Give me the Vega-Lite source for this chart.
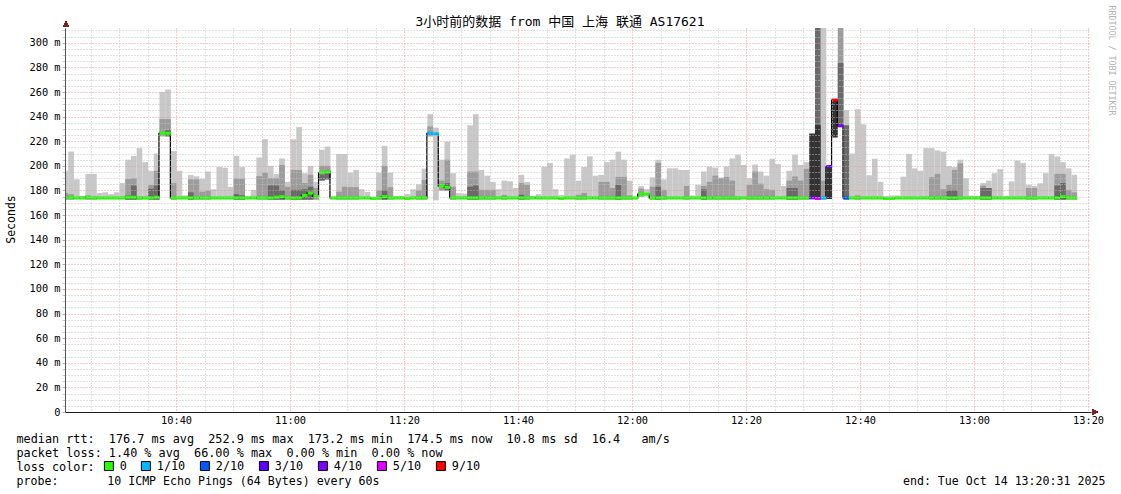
{
"$schema": "https://vega.github.io/schema/vega-lite/v6.json",
"width": 1026, "height": 384,
"autosize": {"type": "none"},
"padding": {"left": 65, "top": 28, "right": 30, "bottom": 82},
"background": "white",
"config": {"view": {"stroke": null}, "font": "DejaVu Sans Mono"},
"title": {"text": "3小时前的数据 from 中国 上海 联通 AS17621", "font": "DejaVu Sans Mono, Noto Sans CJK SC", "fontSize": 13, "fontWeight": "normal", "color": "#000", "anchor": "middle", "frame": "group", "dx": -18, "dy": 37, "offset": 3, "baseline": "alphabetic"},
"data": {"values": [
{"t":"2025-10-14T10:20","lo":172.5,"h":196,"g":178,"m":174,"l":0},
{"t":"2025-10-14T10:21","lo":172.5,"h":211.6,"g":177,"m":174.5,"l":0},
{"t":"2025-10-14T10:22","lo":172.5,"h":189,"m":174,"l":0},
{"t":"2025-10-14T10:23","lo":172.5,"h":175.5,"m":174,"l":0},
{"t":"2025-10-14T10:24","lo":172.5,"h":193.5,"g":176,"m":174.5,"l":0},
{"t":"2025-10-14T10:25","lo":172.5,"h":193.5,"g":175,"m":174,"l":0},
{"t":"2025-10-14T10:26","lo":172.5,"h":178,"m":174,"l":0},
{"t":"2025-10-14T10:27","lo":172.5,"h":178.5,"m":174,"l":0},
{"t":"2025-10-14T10:28","lo":172.5,"h":177,"m":174,"l":0},
{"t":"2025-10-14T10:29","lo":172.5,"h":178.5,"m":174,"l":0},
{"t":"2025-10-14T10:30","lo":172.5,"h":186,"m":174,"l":0},
{"t":"2025-10-14T10:31","lo":172.5,"h":205,"g":189.4,"k":176,"m":174.5,"l":0},
{"t":"2025-10-14T10:32","lo":172.5,"h":208,"g":190,"k":184,"m":174.5,"l":0},
{"t":"2025-10-14T10:33","lo":172.5,"h":214.4,"g":175,"m":174,"l":0},
{"t":"2025-10-14T10:34","lo":172.5,"h":203,"m":174,"l":0},
{"t":"2025-10-14T10:35","lo":172.5,"h":196,"g":184.5,"k":181.5,"m":174,"l":0},
{"t":"2025-10-14T10:36","lo":172.5,"h":210,"g":196,"k":184,"m":174.5,"l":0},
{"t":"2025-10-14T10:37","lo":224,"h":260,"g":238,"m":226.5,"l":0},
{"t":"2025-10-14T10:38","lo":224,"h":262,"g":238,"k":229,"m":226.5,"l":0},
{"t":"2025-10-14T10:39","lo":172.5,"h":212,"g":186,"m":174,"l":0},
{"t":"2025-10-14T10:40","lo":172.5,"h":196,"m":174,"l":0},
{"t":"2025-10-14T10:41","lo":172.5,"h":176,"m":174,"l":0},
{"t":"2025-10-14T10:42","lo":172.5,"h":192.5,"g":189,"k":178.5,"m":174,"l":0},
{"t":"2025-10-14T10:43","lo":172.5,"h":191.5,"g":189,"m":174,"l":0},
{"t":"2025-10-14T10:44","lo":172.5,"h":189.4,"g":179,"m":174,"l":0},
{"t":"2025-10-14T10:45","lo":172.5,"h":195.5,"g":180,"m":174,"l":0},
{"t":"2025-10-14T10:46","lo":172.5,"h":181,"m":174,"l":0},
{"t":"2025-10-14T10:47","lo":172.5,"h":199,"m":174,"l":0},
{"t":"2025-10-14T10:48","lo":172.5,"h":198.5,"m":174,"l":0},
{"t":"2025-10-14T10:49","lo":172.5,"h":183,"m":174,"l":0},
{"t":"2025-10-14T10:50","lo":172.5,"h":208,"g":189.6,"k":177,"m":174,"l":0},
{"t":"2025-10-14T10:51","lo":172.5,"h":199,"g":189.6,"k":176,"m":174,"l":0},
{"t":"2025-10-14T10:52","lo":172.5,"h":175,"m":174,"l":0},
{"t":"2025-10-14T10:53","lo":172.5,"h":180.5,"m":174,"l":0},
{"t":"2025-10-14T10:54","lo":172.5,"h":206.8,"g":191.6,"m":174,"l":0},
{"t":"2025-10-14T10:55","lo":172.5,"h":221.7,"g":194.5,"m":174,"l":0},
{"t":"2025-10-14T10:56","lo":172.5,"h":200,"g":190,"k":184,"m":174,"l":0},
{"t":"2025-10-14T10:57","lo":172.5,"h":193.5,"g":190,"k":184,"m":174.5,"l":0},
{"t":"2025-10-14T10:58","lo":172.5,"h":206,"g":200.7,"k":180,"m":175,"l":0},
{"t":"2025-10-14T10:59","lo":172.5,"h":187,"g":183,"m":174,"l":0},
{"t":"2025-10-14T11:00","lo":172.5,"h":221.6,"g":196.7,"k":180.5,"m":174,"l":0},
{"t":"2025-10-14T11:01","lo":172.5,"h":231.5,"g":196.7,"k":180.5,"m":174,"l":0},
{"t":"2025-10-14T11:02","lo":172.5,"h":194,"g":186,"k":181,"m":176,"l":0},
{"t":"2025-10-14T11:03","lo":172.5,"h":200,"g":192.7,"k":183,"m":178,"l":0},
{"t":"2025-10-14T11:04","lo":172.5,"h":187,"g":182,"m":175,"l":0},
{"t":"2025-10-14T11:05","lo":188,"h":213,"g":200,"k":193,"m":194.6,"l":0},
{"t":"2025-10-14T11:06","lo":189,"h":215.7,"g":200,"k":196,"m":195,"l":0},
{"t":"2025-10-14T11:07","lo":172.5,"h":175,"m":174,"l":0},
{"t":"2025-10-14T11:08","lo":172.5,"h":209.7,"g":179,"m":174,"l":0},
{"t":"2025-10-14T11:09","lo":172.5,"h":209.7,"g":183,"m":174,"l":0},
{"t":"2025-10-14T11:10","lo":172.5,"h":194.5,"g":182.7,"m":174,"l":0},
{"t":"2025-10-14T11:11","lo":172.5,"h":196.7,"g":182.7,"m":174,"l":0},
{"t":"2025-10-14T11:12","lo":172.5,"h":181,"m":174,"l":0},
{"t":"2025-10-14T11:13","lo":172.5,"h":178.8,"m":174,"l":0},
{"t":"2025-10-14T11:14","lo":172.5,"h":175,"m":173.5,"l":0},
{"t":"2025-10-14T11:15","lo":172.5,"h":194.5,"g":180,"m":174,"l":0},
{"t":"2025-10-14T11:16","lo":172.5,"h":216.3,"g":200,"k":180,"m":175,"l":0},
{"t":"2025-10-14T11:17","lo":172.5,"h":194.5,"g":182.7,"m":174,"l":0},
{"t":"2025-10-14T11:18","lo":172.5,"h":175.5,"m":174,"l":0},
{"t":"2025-10-14T11:19","lo":172.5,"h":175.5,"m":174,"l":0},
{"t":"2025-10-14T11:20","lo":172.5,"h":177,"m":173.5,"l":0},
{"t":"2025-10-14T11:21","lo":172.5,"h":181,"m":174,"l":0},
{"t":"2025-10-14T11:22","lo":172.5,"h":185,"g":180,"m":174,"l":0},
{"t":"2025-10-14T11:23","lo":172.5,"h":197.7,"g":188.6,"m":174,"l":0},
{"t":"2025-10-14T11:24","lo":224,"h":242,"g":232,"m":226.5,"l":1},
{"t":"2025-10-14T11:25","lo":172,"h":231,"m":226,"l":1},
{"t":"2025-10-14T11:26","lo":180,"h":205,"g":188,"m":183.7,"l":0},
{"t":"2025-10-14T11:27","lo":180,"h":219.6,"g":205,"k":186,"m":182.5,"l":0},
{"t":"2025-10-14T11:28","lo":172.5,"h":194,"g":183,"m":174,"l":0},
{"t":"2025-10-14T11:29","lo":172.5,"h":177.8,"m":174,"l":0},
{"t":"2025-10-14T11:30","lo":172.5,"h":177.5,"m":174,"l":0},
{"t":"2025-10-14T11:31","lo":172.5,"h":233,"g":195.4,"k":183,"m":174,"l":0},
{"t":"2025-10-14T11:32","lo":172.5,"h":242,"g":195.4,"k":184,"m":174,"l":0},
{"t":"2025-10-14T11:33","lo":172.5,"h":196.7,"g":180.5,"m":174,"l":0},
{"t":"2025-10-14T11:34","lo":172.5,"h":192,"g":180.5,"m":174,"l":0},
{"t":"2025-10-14T11:35","lo":172.5,"h":187,"g":180.5,"m":174,"l":0},
{"t":"2025-10-14T11:36","lo":172.5,"h":181,"m":174,"l":0},
{"t":"2025-10-14T11:37","lo":172.5,"h":188,"g":176.4,"m":174,"l":0},
{"t":"2025-10-14T11:38","lo":172.5,"h":187.5,"m":174,"l":0},
{"t":"2025-10-14T11:39","lo":172.5,"h":182,"m":174,"l":0},
{"t":"2025-10-14T11:40","lo":172.5,"h":192.7,"g":186,"k":176.5,"m":174,"l":0},
{"t":"2025-10-14T11:41","lo":172.5,"h":187,"g":184.6,"m":174,"l":0},
{"t":"2025-10-14T11:42","lo":172.5,"h":175.6,"m":174,"l":0},
{"t":"2025-10-14T11:43","lo":172.5,"h":177,"m":174,"l":0},
{"t":"2025-10-14T11:44","lo":172.5,"h":199.2,"m":174,"l":0},
{"t":"2025-10-14T11:45","lo":172.5,"h":202.4,"m":174,"l":0},
{"t":"2025-10-14T11:46","lo":172.5,"h":181,"m":174,"l":0},
{"t":"2025-10-14T11:47","lo":172.5,"h":176.4,"m":173.5,"l":0},
{"t":"2025-10-14T11:48","lo":172.5,"h":206,"m":174,"l":0},
{"t":"2025-10-14T11:49","lo":172.5,"h":209,"m":174,"l":0},
{"t":"2025-10-14T11:50","lo":172.5,"h":188,"g":176.4,"m":174,"l":0},
{"t":"2025-10-14T11:51","lo":172.5,"h":199,"g":178,"m":174,"l":0},
{"t":"2025-10-14T11:52","lo":172.5,"h":207.7,"m":174,"l":0},
{"t":"2025-10-14T11:53","lo":172.5,"h":192,"m":174,"l":0},
{"t":"2025-10-14T11:54","lo":172.5,"h":192.7,"g":187,"m":174,"l":0},
{"t":"2025-10-14T11:55","lo":172.5,"h":203,"g":187,"m":174,"l":0},
{"t":"2025-10-14T11:56","lo":172.5,"h":205,"g":182,"m":174,"l":0},
{"t":"2025-10-14T11:57","lo":172.5,"h":211.5,"g":191,"k":184.5,"m":174,"l":0},
{"t":"2025-10-14T11:58","lo":172.5,"h":205,"g":191,"m":174,"l":0},
{"t":"2025-10-14T11:59","lo":172.5,"h":188,"g":176,"m":174,"l":0},
{"t":"2025-10-14T12:00","lo":172.5,"h":174.5,"m":174,"l":0},
{"t":"2025-10-14T12:01","lo":175,"h":183.5,"g":181.5,"m":177,"l":0},
{"t":"2025-10-14T12:02","lo":175,"h":181,"m":177,"l":0},
{"t":"2025-10-14T12:03","lo":172.5,"h":190.6,"g":183,"m":174,"l":0},
{"t":"2025-10-14T12:04","lo":172.5,"h":205,"g":202.4,"k":183,"m":174,"l":0},
{"t":"2025-10-14T12:05","lo":172.5,"h":189,"g":180.5,"m":174,"l":0},
{"t":"2025-10-14T12:06","lo":172.5,"h":198,"m":174,"l":0},
{"t":"2025-10-14T12:07","lo":172.5,"h":198,"m":174,"l":0},
{"t":"2025-10-14T12:08","lo":172.5,"h":196.7,"m":174,"l":0},
{"t":"2025-10-14T12:09","lo":172.5,"h":196.7,"g":183.7,"m":174,"l":0},
{"t":"2025-10-14T12:10","lo":172.5,"h":176,"m":174,"l":0},
{"t":"2025-10-14T12:11","lo":172.5,"h":184.6,"m":174,"l":0},
{"t":"2025-10-14T12:12","lo":172.5,"h":195.4,"g":183.7,"k":181,"m":174,"l":0},
{"t":"2025-10-14T12:13","lo":172.5,"h":199.4,"g":187,"m":174,"l":0},
{"t":"2025-10-14T12:14","lo":172.5,"h":198.6,"g":192,"m":174,"l":0},
{"t":"2025-10-14T12:15","lo":172.5,"h":190.6,"g":190,"m":174,"l":0},
{"t":"2025-10-14T12:16","lo":172.5,"h":199.4,"g":191,"m":174,"l":0},
{"t":"2025-10-14T12:17","lo":172.5,"h":206,"g":188,"m":174,"l":0},
{"t":"2025-10-14T12:18","lo":172.5,"h":209,"g":175,"m":174,"l":0},
{"t":"2025-10-14T12:19","lo":172.5,"h":200.8,"m":174,"l":0},
{"t":"2025-10-14T12:20","lo":172.5,"h":190,"g":184.6,"m":174,"l":0},
{"t":"2025-10-14T12:21","lo":172.5,"h":201,"g":195.4,"m":174,"l":0},
{"t":"2025-10-14T12:22","lo":172.5,"h":195.4,"g":185.5,"m":174,"l":0},
{"t":"2025-10-14T12:23","lo":172.5,"h":192,"g":181,"m":174,"l":0},
{"t":"2025-10-14T12:24","lo":172.5,"h":205.7,"g":180.5,"m":174,"l":0},
{"t":"2025-10-14T12:25","lo":172.5,"h":201.4,"m":174,"l":0},
{"t":"2025-10-14T12:26","lo":172.5,"h":183.7,"m":174,"l":0},
{"t":"2025-10-14T12:27","lo":172.5,"h":196,"g":188,"k":182,"m":174,"l":0},
{"t":"2025-10-14T12:28","lo":172.5,"h":209,"g":191.4,"k":182,"m":174,"l":0},
{"t":"2025-10-14T12:29","lo":172.5,"h":200.8,"g":188,"m":174,"l":0},
{"t":"2025-10-14T12:30","lo":172.5,"h":203,"g":197.6,"m":174,"l":0},
{"t":"2025-10-14T12:31","lo":173,"x":226.3,"m":174,"l":4},
{"t":"2025-10-14T12:32","lo":172.5,"k":312,"x":233,"m":173.5,"l":5},
{"t":"2025-10-14T12:33","lo":172.5,"h":312,"g":188,"m":174,"l":1},
{"t":"2025-10-14T12:34","lo":173,"x":199.4,"m":199.4,"l":3},
{"t":"2025-10-14T12:35","lo":223,"x":253.5,"m":253.5,"l":9},
{"t":"2025-10-14T12:36","lo":232,"g":312,"k":283.5,"m":232.5,"l":4},
{"t":"2025-10-14T12:37","lo":172.5,"h":245.4,"k":233,"m":174,"l":2},
{"t":"2025-10-14T12:38","lo":172.5,"h":210,"m":174,"l":0},
{"t":"2025-10-14T12:39","lo":172.5,"h":246,"g":176,"m":174,"l":0},
{"t":"2025-10-14T12:40","lo":172.5,"h":233.7,"m":174,"l":0},
{"t":"2025-10-14T12:41","lo":172.5,"h":192.4,"m":174,"l":0},
{"t":"2025-10-14T12:42","lo":172.5,"h":205.7,"m":174,"l":0},
{"t":"2025-10-14T12:43","lo":172.5,"h":187,"m":174,"l":0},
{"t":"2025-10-14T12:44","lo":172.5,"h":175.6,"m":173.5,"l":0},
{"t":"2025-10-14T12:45","lo":172.5,"h":176,"m":173.5,"l":0},
{"t":"2025-10-14T12:46","lo":172.5,"h":176,"m":174,"l":0},
{"t":"2025-10-14T12:47","lo":172.5,"h":191.3,"m":174,"l":0},
{"t":"2025-10-14T12:48","lo":172.5,"h":209.7,"m":174,"l":0},
{"t":"2025-10-14T12:49","lo":172.5,"h":198,"m":174,"l":0},
{"t":"2025-10-14T12:50","lo":172.5,"h":196,"m":174,"l":0},
{"t":"2025-10-14T12:51","lo":172.5,"h":214.4,"m":174,"l":0},
{"t":"2025-10-14T12:52","lo":172.5,"h":214.4,"g":190.8,"m":174,"l":0},
{"t":"2025-10-14T12:53","lo":172.5,"h":212.5,"g":193.5,"m":174,"l":0},
{"t":"2025-10-14T12:54","lo":172.5,"h":211.5,"g":181,"m":174,"l":0},
{"t":"2025-10-14T12:55","lo":172.5,"h":199.7,"g":184.6,"k":180,"m":174,"l":0},
{"t":"2025-10-14T12:56","lo":172.5,"h":199,"g":196.7,"k":180,"m":174,"l":0},
{"t":"2025-10-14T12:57","lo":172.5,"h":205,"g":202,"m":174,"l":0},
{"t":"2025-10-14T12:58","lo":172.5,"h":190,"m":174,"l":0},
{"t":"2025-10-14T12:59","lo":172.5,"h":175.5,"m":174,"l":0},
{"t":"2025-10-14T13:00","lo":172.5,"h":175.5,"m":174,"l":0},
{"t":"2025-10-14T13:01","lo":172.5,"h":186,"g":184,"k":182,"m":174,"l":0},
{"t":"2025-10-14T13:02","lo":172.5,"h":188,"g":182,"k":182,"m":174,"l":0},
{"t":"2025-10-14T13:03","lo":172.5,"h":194,"m":174,"l":0},
{"t":"2025-10-14T13:04","lo":172.5,"h":197.3,"m":174,"l":0},
{"t":"2025-10-14T13:05","lo":172.5,"h":175.5,"m":174,"l":0},
{"t":"2025-10-14T13:06","lo":172.5,"h":187.4,"m":174,"l":0},
{"t":"2025-10-14T13:07","lo":172.5,"h":204.4,"m":174,"l":0},
{"t":"2025-10-14T13:08","lo":172.5,"h":202.4,"m":174,"l":0},
{"t":"2025-10-14T13:09","lo":172.5,"h":184.6,"g":182,"m":174,"l":0},
{"t":"2025-10-14T13:10","lo":172.5,"h":183.7,"g":182,"m":174,"l":0},
{"t":"2025-10-14T13:11","lo":172.5,"h":185.8,"m":174,"l":0},
{"t":"2025-10-14T13:12","lo":172.5,"h":194,"m":174,"l":0},
{"t":"2025-10-14T13:13","lo":172.5,"h":209.7,"m":174,"l":0},
{"t":"2025-10-14T13:14","lo":172.5,"h":207.6,"g":193.5,"k":184,"m":174,"l":0},
{"t":"2025-10-14T13:15","lo":172.5,"h":203,"g":193.5,"k":186,"m":175,"l":0},
{"t":"2025-10-14T13:16","lo":172.5,"h":198,"g":180.5,"m":174,"l":0},
{"t":"2025-10-14T13:17","lo":172.5,"h":192.7,"g":178.5,"m":174,"l":0}
]},
"layer": [
{"mark": {"type": "rect", "color": "#c8c8c8", "clip": true},
 "encoding": {
  "x": {"field": "t", "type": "temporal", "timeUnit": "yearmonthdatehoursminutes",
   "scale": {"domain": [{"year": 2025, "month": 10, "date": 14, "hours": 10, "minutes": 20, "seconds": 31}, {"year": 2025, "month": 10, "date": 14, "hours": 13, "minutes": 20, "seconds": 31}]},
   "axis": {
    "tickCount": 36, "format": "%H:%M",
    "labelExpr": "minutes(datum.value) % 20 == 0 ? datum.label : ''",
    "labelFont": "DejaVu Sans Mono", "labelFontSize": 10.3, "labelColor": "#000", "labelPadding": 3,
    "labelOverlap": false, "labelFlush": false, "labelBound": false,
    "grid": true, "gridColor": {"condition": {"test": "minutes(datum.value) % 20 == 0", "value": "#eb9595"}, "value": "#c2c2c2"},
    "gridDash": [1, 2], "gridWidth": 1,
    "ticks": false, "domainColor": "#1f1f1f", "domainWidth": 1, "zindex": 1,
    "title": null
   }},
  "y": {"field": "h", "type": "quantitative", "scale": {"domain": [0, 312], "nice": false, "zero": true},
   "axis": {
    "values": [0,5,10,15,20,25,30,35,40,45,50,55,60,65,70,75,80,85,90,95,100,105,110,115,120,125,130,135,140,145,150,155,160,165,170,175,180,185,190,195,200,205,210,215,220,225,230,235,240,245,250,255,260,265,270,275,280,285,290,295,300,305,310],
    "labelExpr": "datum.value % 20 == 0 ? (datum.value == 0 ? '0' : datum.value + ' m') : ''",
    "labelFont": "DejaVu Sans Mono", "labelFontSize": 10.3, "labelColor": "#000", "labelPadding": 2, "labelOverlap": false, "labelBound": false, "labelFlush": false,
    "grid": true, "gridColor": {"condition": {"test": "datum.value % 20 == 0", "value": "#eb9595"}, "value": "#c2c2c2"},
    "gridDash": [1, 2], "gridWidth": 1,
    "ticks": true, "tickSize": 3, "tickColor": {"condition": {"test": "datum.value % 20 == 0", "value": "#eb9595"}, "value": "#c8c8c8"},
    "domainColor": "#555", "domainWidth": 1, "zindex": 1,
    "title": "Seconds", "titleFont": "DejaVu Sans Mono", "titleFontSize": 11.5, "titleFontWeight": "normal", "titleColor": "#000",
    "titleAngle": -90, "titleX": -54, "titleY": 191, "titleAlign": "center", "titleBaseline": "middle"
   }},
  "y2": {"field": "lo"}
 }},
{"mark": {"type": "rect", "color": "#9c9c9c", "clip": true},
 "encoding": {
  "x": {"field": "t", "type": "temporal", "timeUnit": "yearmonthdatehoursminutes", "axis": null},
  "y": {"field": "g", "type": "quantitative",
   "axis": {"orient": "left", "labels": false, "ticks": false, "domain": false, "grid": false,
    "title": "median rtt:\u00a0\u00a0176.7 ms avg\u00a0\u00a0252.9 ms max\u00a0\u00a0173.2 ms min\u00a0\u00a0174.5 ms now\u00a0\u00a010.8 ms sd\u00a0\u00a016.4\u00a0\u00a0\u00a0am/s",
    "titleFont": "DejaVu Sans Mono", "titleFontSize": 11.8, "titleFontWeight": "normal", "titleColor": "#000",
    "titleAngle": 0, "titleAlign": "left", "titleBaseline": "alphabetic", "titleX": -49, "titleY": 414}},
  "y2": {"field": "lo"}}},
{"mark": {"type": "rect", "color": "#6a6a6a", "clip": true},
 "encoding": {
  "x": {"field": "t", "type": "temporal", "timeUnit": "yearmonthdatehoursminutes", "axis": null},
  "y": {"field": "k", "type": "quantitative",
   "axis": {"orient": "left", "labels": false, "ticks": false, "domain": false, "grid": false,
    "title": "packet loss: 1.40 % avg\u00a0\u00a066.00 % max\u00a0\u00a00.00 % min\u00a0\u00a00.00 % now",
    "titleFont": "DejaVu Sans Mono", "titleFontSize": 11.8, "titleFontWeight": "normal", "titleColor": "#000",
    "titleAngle": 0, "titleAlign": "left", "titleBaseline": "alphabetic", "titleX": -49, "titleY": 428}},
  "y2": {"field": "lo"}}},
{"mark": {"type": "rect", "color": "#333333", "clip": true},
 "encoding": {
  "x": {"field": "t", "type": "temporal", "timeUnit": "yearmonthdatehoursminutes", "axis": null},
  "y": {"field": "x", "type": "quantitative",
   "axis": {"orient": "left", "labels": false, "ticks": false, "domain": false, "grid": false,
    "title": "loss color:",
    "titleFont": "DejaVu Sans Mono", "titleFontSize": 11.8, "titleFontWeight": "normal", "titleColor": "#000",
    "titleAngle": 0, "titleAlign": "left", "titleBaseline": "alphabetic", "titleX": -49, "titleY": 442}},
  "y2": {"field": "lo"}}},
{"mark": {"type": "line", "interpolate": "step-after", "color": "#000", "strokeWidth": 1.2, "clip": true},
 "encoding": {
  "x": {"field": "t", "type": "temporal", "axis": null},
  "y": {"field": "m", "type": "quantitative",
   "axis": {"orient": "right", "labels": false, "ticks": false, "domain": false, "grid": false,
    "title": "RRDTOOL / TOBI OETIKER", "titleFont": "DejaVu Sans Mono", "titleFontSize": 8.3, "titleFontWeight": "normal",
    "titleColor": "#b4b4b4", "titleAngle": 90, "titleX": 19, "titleY": 32, "titleAlign": "center", "titleBaseline": "middle"}}}},
{"mark": {"type": "rect", "clip": true, "yOffset": 1.5, "y2Offset": -1.5},
 "encoding": {
  "x": {"field": "t", "type": "temporal", "timeUnit": "yearmonthdatehoursminutes", "axis": null},
  "y": {"field": "m", "type": "quantitative",
   "axis": {"orient": "left", "labels": false, "ticks": false, "domain": false, "grid": false,
    "title": "probe:\u00a0\u00a0\u00a0\u00a0\u00a0\u00a0\u00a010 ICMP Echo Pings (64 Bytes) every 60s\u00a0\u00a0\u00a0\u00a0\u00a0\u00a0\u00a0\u00a0\u00a0\u00a0\u00a0\u00a0\u00a0\u00a0\u00a0\u00a0\u00a0\u00a0\u00a0\u00a0\u00a0\u00a0\u00a0\u00a0\u00a0\u00a0\u00a0\u00a0\u00a0\u00a0\u00a0\u00a0\u00a0\u00a0\u00a0\u00a0\u00a0\u00a0\u00a0\u00a0\u00a0\u00a0\u00a0\u00a0\u00a0\u00a0\u00a0\u00a0\u00a0\u00a0\u00a0\u00a0\u00a0\u00a0\u00a0\u00a0\u00a0\u00a0\u00a0\u00a0\u00a0\u00a0\u00a0\u00a0\u00a0\u00a0\u00a0\u00a0\u00a0\u00a0\u00a0\u00a0\u00a0\u00a0\u00a0end: Tue Oct 14 13:20:31 2025",
    "titleFont": "DejaVu Sans Mono", "titleFontSize": 11.6, "titleFontWeight": "normal", "titleColor": "#000",
    "titleAngle": 0, "titleAlign": "left", "titleBaseline": "alphabetic", "titleX": -49, "titleY": 456}},
  "y2": {"field": "m"},
  "color": {"field": "l", "type": "ordinal",
   "scale": {"domain": [0, 1, 2, 3, 4, 5, 9], "range": ["#26ff00", "#00b8ff", "#0059ff", "#5e00ff", "#7e00ff", "#dd00ff", "#ff0000"]},
   "legend": {"orient": "none", "legendX": 38, "legendY": 432, "direction": "horizontal", "title": null,
    "symbolType": "square", "symbolSize": 81, "symbolStrokeColor": "#000", "symbolStrokeWidth": 1, "symbolOpacity": 1,
    "labelFont": "DejaVu Sans Mono", "labelFontSize": 11.8, "labelColor": "#000", "labelOffset": 5, "columnPadding": 12,
    "padding": 0, "labelExpr": "datum.value == 0 ? '0' : datum.value + '/10'",
    "encode": {"symbols": {"update": {"stroke": {"value": "#000"}, "strokeWidth": {"value": 1}}}}}}}},
{"mark": {"type": "point", "shape": "triangle-right", "filled": true, "color": "#7f1f1f", "size": 28, "opacity": 1, "xOffset": 4, "clip": false},
 "encoding": {
  "x": {"datum": {"year": 2025, "month": 10, "date": 14, "hours": 13, "minutes": 20, "seconds": 31}, "type": "temporal", "axis": null},
  "y": {"datum": 0, "type": "quantitative", "axis": null}}},
{"mark": {"type": "point", "shape": "triangle-up", "filled": true, "color": "#7f1f1f", "size": 28, "opacity": 1, "yOffset": -4, "xOffset": 1, "clip": false},
 "encoding": {
  "x": {"datum": {"year": 2025, "month": 10, "date": 14, "hours": 10, "minutes": 20, "seconds": 31}, "type": "temporal", "axis": null},
  "y": {"datum": 312, "type": "quantitative", "axis": null}}}
],
"resolve": {"axis": {"x": "independent", "y": "independent"}}
}
